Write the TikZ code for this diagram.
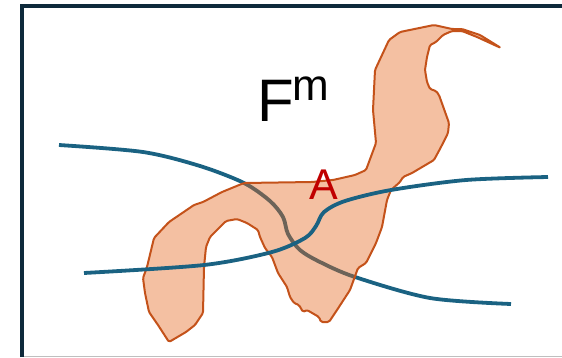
\documentclass[tikz,border=0pt]{standalone}
\usepackage{fontspec}
\setmainfont{Liberation Sans}
\usepackage{xcolor}
\usepackage{tikz}

\definecolor{framecol}{HTML}{0E2A3B}
\definecolor{curvecol}{HTML}{1A6282}
\definecolor{regionfill}{HTML}{E4661D}
\definecolor{regionline}{HTML}{C4521A}
\definecolor{labelred}{HTML}{C00000}

\begin{document}
\begin{tikzpicture}[
  x=1pt, y=-1pt,
  frame/.style={draw=framecol, line width=4pt},
  curve/.style={draw=curvecol, line width=3.8pt},
  region/.style={draw=regionline, line width=2pt, fill=regionfill, fill opacity=0.41, line join=round, rounded corners=1.5pt},
  lbl/.style={anchor=base west, inner sep=0pt}
]
\useasboundingbox (0,0) rectangle (562,357);
\draw[frame] (22,357) -- (22,6) -- (562,6);
\draw[gray!50, line width=1pt] (24,356) -- (562,356);

\draw[curve] plot[smooth] coordinates {(59,145) (143,152) (200,166) (244,183) (270,201) (283,217) (288,234) (300,250) (320,262) (355,277) (430,298) (511,304)};

\draw[region] (501,48) -- (480,35) -- (462,29) -- (452,29) -- (434,25) -- (400,32) -- (389,40)
  -- (375,70) -- (373,110) -- (376,143) -- (366,170) -- (355,175) -- (333,180) -- (312,182)
  -- (244,183) -- (222,192) -- (203,202) -- (194,205) -- (169,222) -- (154,238) -- (147,267)
  -- (143,278) -- (145,293) -- (149,312) -- (158,325) -- (169,342) -- (186,332) -- (195,325)
  -- (203,313) -- (204,267) -- (206,247) -- (210,237) -- (217,230) -- (226,221) -- (237,219)
  -- (247,223) -- (258,230) -- (260,237) -- (265,248) -- (272,257) -- (278,273) -- (287,287)
  -- (290,297) -- (294,303) -- (299,305) -- (303,312) -- (307,310) -- (319,317) -- (321,322)
  -- (329,322) -- (337,310) -- (350,290) -- (358,268) -- (366,263) -- (376,243) -- (382,227)
  -- (387,200) -- (391,190) -- (400,182) -- (403,177) -- (412,173) -- (434,160) -- (441,147)
  -- (448,133) -- (449,123) -- (439,95) -- (436,91) -- (430,89) -- (427,82) -- (425,70)
  -- (427,57) -- (430,45) -- (436,42) -- (443,35) -- (452,31) -- (462,31) -- (477,37) -- cycle;

\draw[curve] plot[smooth] coordinates {(84,273) (204,265) (272,252) (305,238) (316,226) (324,212) (345,201) (391,190) (466,180) (548,177)};

\node[lbl] (fm) at (257,121.7) {\fontsize{60}{60}\selectfont F\hspace{-1pt}\raisebox{21.7pt}{\fontsize{44}{44}\selectfont m}};
\node[lbl, text=labelred] (a) at (309,199) {\fontsize{43}{43}\selectfont A};
\end{tikzpicture}
\end{document}
